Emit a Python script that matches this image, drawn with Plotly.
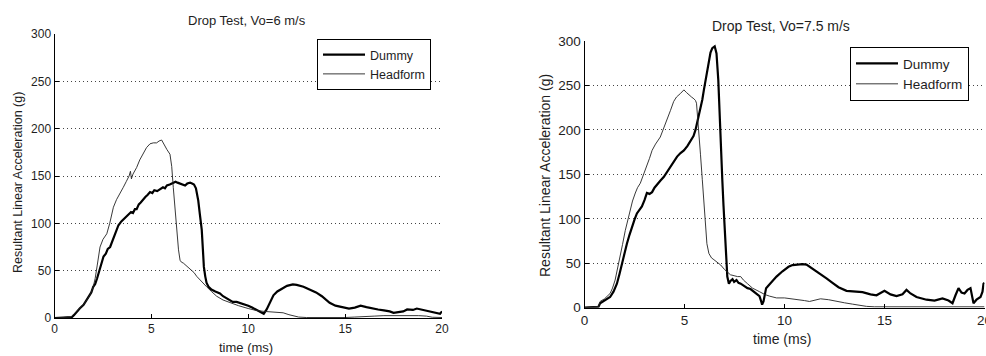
import plotly.graph_objects as go

W, H = 986, 356

# ---------------- data ----------------
t_dummy_6 = [0, 0.5, 0.9, 1.0, 1.15, 1.3, 1.5, 1.67, 1.8, 1.9, 2.0, 2.1, 2.2, 2.27, 2.4, 2.53, 2.65, 2.75, 2.87,
             3.0, 3.13, 3.2, 3.3, 3.45, 3.6, 3.73, 3.85, 3.95, 4.05, 4.15, 4.24, 4.35, 4.45, 4.59, 4.7, 4.8, 4.93,
             5.05, 5.15, 5.3, 5.45, 5.6, 5.7, 5.8, 5.95, 6.05, 6.13, 6.25, 6.35, 6.48, 6.6, 6.74, 6.85, 7.0, 7.1,
             7.2, 7.3, 7.42, 7.5, 7.6, 7.66, 7.71, 7.78, 7.85, 7.95, 8.1, 8.3, 8.54, 8.7, 8.85, 9.05, 9.2, 9.4,
             9.57, 9.75, 9.9, 10.0, 10.2, 10.4, 10.6, 10.8, 10.95, 11.1, 11.3, 11.5, 11.8, 12.0, 12.3, 12.5, 12.85,
             13.1, 13.5, 13.8, 14.0, 14.2, 14.5, 14.9, 15.2, 15.5, 15.8, 16.1, 16.4, 16.7, 17.0, 17.3, 17.5, 17.8,
             18.0, 18.2, 18.5, 18.7, 18.9, 19.1, 19.3, 19.6, 19.9, 20.0]
g_dummy_6 = [0, 0.5, 1, 3, 7, 10, 14, 19, 24, 27, 33, 36, 42, 47, 55, 65, 68, 73, 75,
             82, 89, 93, 98, 102, 105, 107, 109, 112, 111, 115, 115, 120, 122, 126, 128, 130, 133,
             132, 135, 134, 136, 138, 137, 140, 141, 142, 143, 144, 143, 142, 141, 140, 142, 143, 142,
             141, 137, 124, 110, 93, 72, 54, 44, 37, 33, 30, 28, 26, 23, 21, 19, 17, 17,
             16, 15, 14, 13, 11, 9, 7, 4.5, 9, 16, 24, 28, 32, 34, 35.5, 35, 33,
             31, 27, 23, 19, 16, 13, 11, 10, 11, 13, 11.5, 10, 9, 8, 7, 5.5, 6.5,
             7, 9, 8.5, 10, 9, 8, 7, 5.5, 4.5, 7]

t_head_6 = [0, 0.5, 0.85, 1.0, 1.2, 1.5, 1.7, 1.85, 2.0, 2.1, 2.2, 2.35, 2.5, 2.7, 2.85, 3.04, 3.2, 3.38, 3.55,
            3.7, 3.85, 3.92, 3.97, 4.05, 4.24, 4.4, 4.59, 4.75, 4.93, 5.1, 5.27, 5.4, 5.53, 5.65, 5.8, 5.96,
            6.05, 6.13, 6.2, 6.3, 6.4, 6.48, 6.55, 6.65, 6.8, 7.0, 7.2, 7.34, 7.6, 7.85, 8.1, 8.37, 8.7, 9.05,
            9.5, 10.0, 10.4, 10.8, 11.3, 11.8, 12.1, 12.6, 13.0, 14.0, 15.0, 15.5, 16.1, 16.5, 17.0, 17.5,
            18.3, 18.8, 19.2, 19.5, 20.0]
g_head_6 = [0, 0.5, 1, 4, 8, 14, 20, 25, 33, 42, 55, 75, 83, 89, 100, 117, 125, 131, 138,
            144, 150, 155, 147, 152, 159, 167, 175, 180, 184, 185, 185, 187, 188, 183, 178, 173,
            160, 138, 118, 93, 72, 61, 59, 58, 55, 52, 48, 44, 38, 33, 28, 23, 19, 16,
            13, 10, 8, 7, 6.5, 5.5, 3.5, 1, 0.5, 0.3, 0.5, 1, 2, 2, 2.5, 2.5,
            3, 2.5, 2, 0.8, 0.5]

t_dummy_75 = [0, 0.5, 0.7, 0.78, 1.0, 1.28, 1.45, 1.62, 1.75, 1.87, 2.0, 2.12, 2.25, 2.37, 2.5, 2.62, 2.75,
              2.87, 3.0, 3.12, 3.25, 3.38, 3.5, 3.63, 3.8, 3.96, 4.1, 4.3, 4.45, 4.63, 4.8, 4.97, 5.15, 5.3,
              5.45, 5.55, 5.65, 5.72, 5.8, 5.89, 5.97, 6.05, 6.15, 6.22, 6.3, 6.39, 6.51, 6.6, 6.65, 6.69,
              6.74, 6.78, 6.84, 6.89, 6.95, 7.01, 7.06, 7.1, 7.14, 7.22, 7.3, 7.4, 7.48, 7.6, 7.7, 7.81, 8.0,
              8.15, 8.3, 8.48, 8.6, 8.75, 8.85, 8.88, 8.95, 9.08, 9.2, 9.4, 9.6, 9.9, 10.2, 10.4, 10.7, 10.9,
              11.1, 11.4, 11.9, 12.1, 12.4, 12.7, 13.1, 13.5, 13.9, 14.3, 14.6, 15.0, 15.3, 15.6, 15.9, 16.1,
              16.3, 16.6, 17.1, 17.5, 17.9, 18.2, 18.4, 18.55, 18.7, 18.85, 19.0, 19.15, 19.3, 19.45, 19.6,
              19.8, 19.9, 19.95, 20.0]
g_dummy_75 = [0, 0.5, 1, 5, 8, 12, 18, 27, 38, 50, 61, 72, 82, 91, 99, 106, 110,
              114, 121, 129, 128, 130, 135, 138, 143, 147, 152, 159, 164, 170, 174, 177, 182, 187,
              193, 200, 210, 215, 224, 234, 245, 256, 268, 279, 287, 292, 294, 286, 272, 256,
              228, 200, 170, 144, 115, 87, 65, 50, 35, 27, 30, 32, 29, 31, 28, 27, 24,
              22, 21, 18, 16.5, 13, 6, 3.4, 7, 22, 25, 30, 35, 41, 46, 48, 49, 49,
              48.5, 44, 37, 33, 28, 23, 19, 18, 17.5, 15, 14, 19, 15, 13, 15, 20,
              16, 12, 9, 8, 10.5, 8, 5, 14, 22, 17, 16, 20, 22, 5, 9,
              12, 18, 27, 28]

t_head_75 = [0, 0.5, 0.7, 0.78, 1.0, 1.28, 1.4, 1.53, 1.65, 1.78, 1.9, 2.04, 2.15, 2.29, 2.4, 2.54, 2.65,
             2.79, 2.95, 3.12, 3.25, 3.38, 3.55, 3.79, 3.95, 4.13, 4.3, 4.46, 4.6, 4.8, 4.97, 5.1, 5.22, 5.35,
             5.47, 5.55, 5.6, 5.66, 5.72, 5.8, 5.89, 5.97, 6.05, 6.12, 6.22, 6.35, 6.47, 6.65, 6.81, 7.0,
             7.14, 7.3, 7.48, 7.65, 7.81, 7.95, 8.15, 8.4, 8.75, 9.0, 9.25, 9.6, 10.0, 10.4, 10.75, 11.0,
             11.25, 11.5, 11.8, 12.2, 12.6, 13.0, 13.4, 13.8, 14.1, 14.5, 15.0, 16.0, 17.0, 18.0, 18.5,
             19.0, 19.5, 20.0]
g_head_75 = [0, 0.5, 1.5, 7, 10, 16, 22, 31, 43, 57, 71, 87, 98, 110, 120, 129, 135,
             140, 149, 159, 168, 177, 184, 192, 201, 211, 222, 232, 237, 241, 245, 242, 239, 237,
             235, 233, 230, 215, 200, 172, 144, 115, 87, 72, 61, 56, 54, 51, 48, 43,
             40, 37, 36, 35, 35, 31, 27, 22, 18, 15, 13, 11, 11, 10, 9, 8,
             7, 8.5, 10, 9, 7, 5.5, 4, 2.5, 1.5, 1, 1, 1.5, 1.5, 1.5, 1,
             1.5, 1, 1]

titles = ["Drop Test, Vo=6 m/s", "Drop Test, Vo=7.5 m/s"]
x_title = "time (ms)"
y_title = "Resultant Linear Acceleration (g)"
x_ticks = [0, 5, 10, 15, 20]
y_ticks = [0, 50, 100, 150, 200, 250, 300]

# ---------------- layout geometry (pixels) ----------------
def px(x):
    return x / W

def py(y):
    return 1 - y / H

FONT = "Liberation Sans, Arial, Helvetica, sans-serif"
TXT = "#1e1e1e"
FS_L = 12.5   # left panel text size
FS_R = 13.5   # right panel text size

fig = go.Figure()

fig.add_trace(go.Scatter(x=t_dummy_6, y=g_dummy_6, mode="lines", name="Dummy",
                         line=dict(color="black", width=2.2), xaxis="x", yaxis="y", legend="legend"))
fig.add_trace(go.Scatter(x=t_head_6, y=g_head_6, mode="lines", name="Headform",
                         line=dict(color="#222", width=0.9), xaxis="x", yaxis="y", legend="legend"))
fig.add_trace(go.Scatter(x=t_dummy_75, y=g_dummy_75, mode="lines", name="Dummy",
                         line=dict(color="black", width=2.2), xaxis="x2", yaxis="y2", legend="legend2"))
fig.add_trace(go.Scatter(x=t_head_75, y=g_head_75, mode="lines", name="Headform",
                         line=dict(color="#222", width=0.9), xaxis="x2", yaxis="y2", legend="legend2"))

def xaxis(dom, anchor, fs):
    return dict(domain=dom, anchor=anchor, range=[0, 20], tickvals=x_ticks, ticktext=[str(v) for v in x_ticks],
                showgrid=False, zeroline=False, showline=True, linecolor="black", linewidth=1,
                ticks="inside", ticklen=4, tickcolor="black", mirror=False, automargin=False,
                ticklabeloverflow="allow",
                tickfont=dict(family=FONT, size=fs, color=TXT), fixedrange=True)

def yaxis(dom, anchor, fs):
    return dict(domain=dom, anchor=anchor, range=[0, 300], tickvals=y_ticks, ticktext=[str(v) for v in y_ticks],
                showgrid=True, gridcolor="#444", griddash="1px,3px", gridwidth=1,
                zeroline=False, showline=True, linecolor="black", linewidth=1,
                ticks="inside", ticklen=4, tickcolor="black", mirror=False, automargin=False,
                ticklabeloverflow="allow",
                tickfont=dict(family=FONT, size=fs, color=TXT), fixedrange=True)

L = dict(x0=54.5, x1=442, y0=34, y1=318)
R = dict(x0=584.5, x1=984.5, y0=41, y1=307.7)

def legend(x, y, fs):
    return dict(x=px(x), y=py(y), bgcolor="white", bordercolor="black", borderwidth=1,
                xanchor="left", yanchor="top", tracegroupgap=0, itemwidth=42,
                font=dict(family=FONT, size=fs, color=TXT))

fig.update_layout(
    width=W, height=H,
    margin=dict(l=0, r=0, t=0, b=0),
    paper_bgcolor="white", plot_bgcolor="white",
    showlegend=True,
    xaxis=xaxis([px(L["x0"]), px(L["x1"])], "y", 12),
    yaxis=yaxis([py(L["y1"]), py(L["y0"])], "x", 12),
    xaxis2=xaxis([px(R["x0"]), px(R["x1"])], "y2", 13.5),
    yaxis2=yaxis([py(R["y1"]), py(R["y0"])], "x2", 13.5),
    legend=legend(317, 39, FS_L),
    legend2=legend(850, 47, FS_R),
)

ann = []
ann.append(dict(text=titles[0], x=px(247.5), y=py(20), font=dict(size=13)))
ann.append(dict(text=titles[1], x=px(781), y=py(26), font=dict(size=FS_R + 0.5)))
ann.append(dict(text=x_title, x=px(246), y=py(347), font=dict(size=13)))
ann.append(dict(text=x_title, x=px(782), y=py(339), font=dict(size=FS_R + 0.5)))
ann.append(dict(text=y_title, x=px(18), y=py(183), textangle=-90, font=dict(size=FS_L)))
ann.append(dict(text=y_title, x=px(545), y=py(176), textangle=-90, font=dict(size=FS_R + 0.5)))
for a in ann:
    a.update(xref="paper", yref="paper", xanchor="center", yanchor="middle", showarrow=False)
    a["font"].update(family=FONT, color=TXT)
fig.update_layout(annotations=ann)

fig.write_html("out.html", config={"displayModeBar": False},
               post_script="document.body.style.margin='0px';")
